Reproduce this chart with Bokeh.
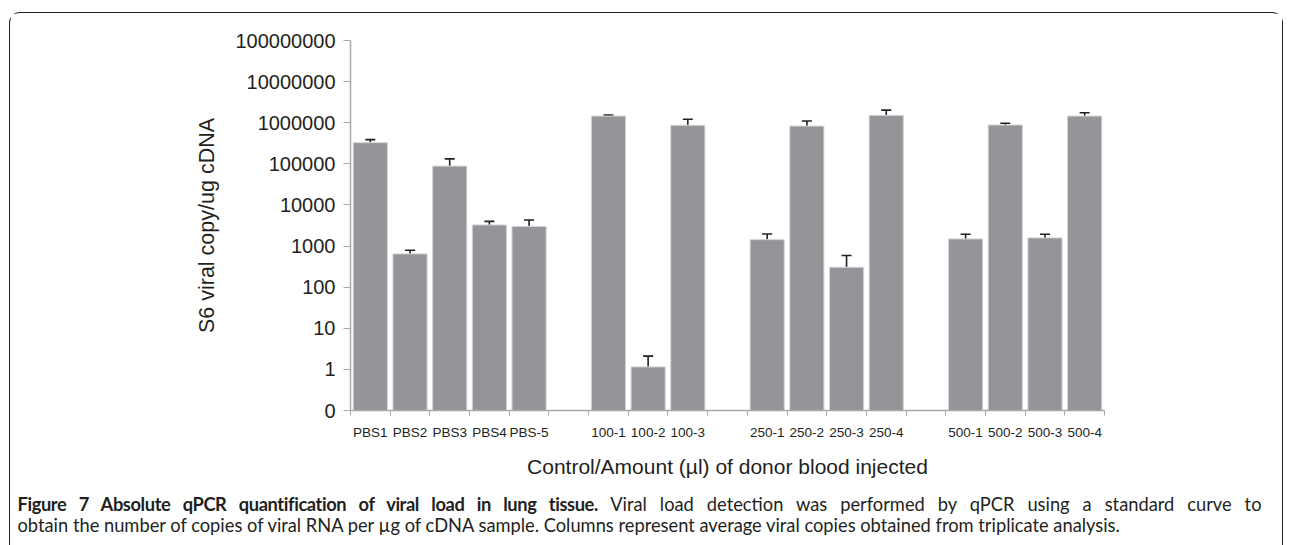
from bokeh.plotting import figure
from bokeh.layouts import column
from bokeh.models import (FixedTicker, CustomJSTickFormatter, ColumnDataSource,
                          Whisker, TeeHead, Div)
from bokeh.embed import file_html
from bokeh.resources import INLINE

# ---- data ----
categories = ["PBS1", "PBS2", "PBS3", "PBS4", "PBS-5", "",
              "100-1", "100-2", "100-3", "",
              "250-1", "250-2", "250-3", "250-4", "",
              "500-1", "500-2", "500-3", "500-4"]
means = [327000, 645, 88000, 3260, 3010, None,
         1450000, 1.15, 865000, None,
         1430, 830000, 305, 1510000, None,
         1490, 880000, 1580, 1450000]
upper = [387000, 790, 132000, 3990, 4300, None,
         1540000, 2.1, 1210000, None,
         1970, 1100000, 590, 2030000, None,
         1930, 970000, 1930, 1750000]
y_ticks = [0.1, 1, 10, 100, 1000, 10000, 100000, 1000000, 10000000, 100000000]
y_tick_labels = ["0", "1", "10", "100", "1000", "10000", "100000",
                 "1000000", "10000000", "100000000"]
x_title = "Control/Amount (\u00b5l) of donor blood injected"
y_title = "S6 viral copy/ug cDNA"
caption_bold = "Figure 7 Absolute qPCR quantification of viral load in lung tissue."
caption_1 = "Viral load detection was performed by qPCR using a standard curve to"
caption_2 = ("obtain the number of copies of viral RNA per \u00b5g of cDNA sample. "
             "Columns represent average viral copies obtained from triplicate analysis.")

xs, ms, us = [], [], []
for i, (c, m, u) in enumerate(zip(categories, means, upper)):
    if c:
        xs.append(i + 0.5)
        ms.append(m)
        us.append(u)
src = ColumnDataSource(dict(x=xs, mean=ms, upper=us))
n = len(categories)

W = 1272
p = figure(width=W, height=472, output_backend="svg", toolbar_location=None,
           y_axis_type="log", x_range=(0, n), y_range=(y_ticks[0], y_ticks[-1]),
           min_border_left=340, min_border_right=178, min_border_top=27,
           min_border_bottom=75)
p.outline_line_color = None
p.xgrid.visible = False
p.ygrid.visible = False
p.background_fill_color = "white"
p.border_fill_color = "white"

p.vbar(x="x", top="mean", bottom=y_ticks[0], width=0.86, source=src,
       fill_color="#939598", line_color="#d2d3d5", line_width=1)
p.add_layout(Whisker(base="x", lower="mean", upper="upper", source=src,
                     dimension="height", line_color="#231f20", line_width=1.6,
                     upper_head=TeeHead(size=10, line_color="#231f20", line_width=1.6),
                     lower_head=None))

axis_gray = "#a7a9ac"
ink = "#231f20"
# x axis
xa = p.xaxis[0]
xa.ticker = FixedTicker(ticks=xs, minor_ticks=list(range(n + 1)))
xa.formatter = CustomJSTickFormatter(args=dict(cat_labels=categories),
                                     code="return cat_labels[Math.floor(tick)];")
xa.major_tick_out = 0
xa.major_tick_in = 0
xa.minor_tick_out = 5
xa.minor_tick_in = 0
xa.minor_tick_line_color = axis_gray
xa.axis_line_color = axis_gray
xa.axis_line_width = 1.5
xa.major_label_text_font = "Liberation Sans"
xa.major_label_text_font_size = "13.5px"
xa.major_label_text_color = ink
xa.major_label_standoff = 9
xa.axis_label = x_title
xa.axis_label_text_font = "Liberation Sans"
xa.axis_label_text_font_size = "21px"
xa.axis_label_text_font_style = "normal"
xa.axis_label_text_color = ink
xa.axis_label_standoff = 12

# y axis
ya = p.yaxis[0]
ya.ticker = FixedTicker(ticks=y_ticks, minor_ticks=[])
ya.formatter = CustomJSTickFormatter(args=dict(tick_vals=y_ticks, tick_texts=y_tick_labels), code="""
    for (let i = 0; i < tick_vals.length; i++) {
        if (Math.abs(Math.log10(tick) - Math.log10(tick_vals[i])) < 1e-6) return tick_texts[i];
    }
    return "";
""")
ya.major_tick_out = 7
ya.major_tick_in = 0
ya.minor_tick_out = 0
ya.minor_tick_in = 0
ya.major_tick_line_color = axis_gray
ya.axis_line_color = axis_gray
ya.axis_line_width = 1.5
ya.major_label_text_font = "Liberation Sans"
ya.major_label_text_font_size = "20px"
ya.major_label_text_color = ink
ya.major_label_standoff = 8
ya.axis_label = y_title
ya.axis_label_text_font = "Liberation Sans"
ya.axis_label_text_font_size = "21.5px"
ya.axis_label_text_font_style = "normal"
ya.axis_label_text_color = ink
ya.axis_label_standoff = 13

# ---- caption (justified first line, as in the journal figure) ----
cap_html = ("<div style='width:1244px;text-align:justify;text-align-last:justify;"
            "white-space:normal'>"
            "<span style='font-weight:bold;letter-spacing:-0.4px'>" + caption_bold +
            "</span> " + caption_1 + "</div><div>" + caption_2 + "</div>")
cap = Div(text=cap_html, width=W, height=60, margin=0,
          styles={"font-family": "Lato", "font-size": "18.3px", "color": ink,
                  "line-height": "21px", "white-space": "nowrap",
                  "padding-top": "9px", "padding-left": "7.5px",
                  "box-sizing": "border-box", "overflow": "hidden"})

layout = column(p, cap, spacing=0, margin=(12, 0, 0, 9),
                styles={"border": "1.5px solid #231f20", "border-bottom": "none",
                        "border-radius": "11px 11px 0 0"})

open("out.html", "w").write(file_html(layout, INLINE))
